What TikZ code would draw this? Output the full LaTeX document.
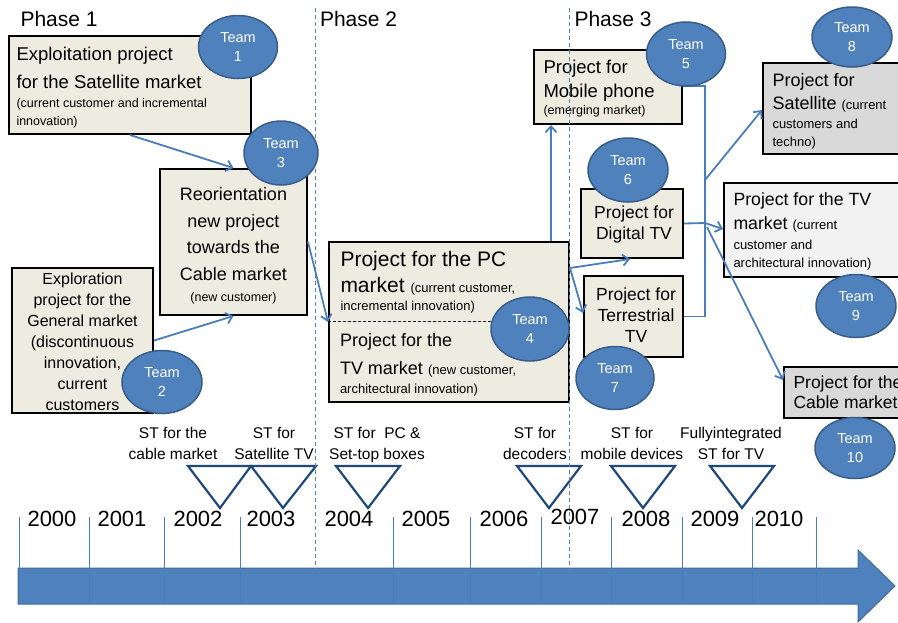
\documentclass[tikz,border=0pt]{standalone}
\usepackage{fontspec}
\setmainfont{Liberation Sans}
\usetikzlibrary{shapes.geometric,arrows.meta}
\definecolor{boxbeige}{HTML}{EEECE1}
\definecolor{boxgrey}{HTML}{D9D9D9}
\definecolor{boxlight}{HTML}{F2F2F2}
\definecolor{teamfill}{HTML}{4F81BD}
\definecolor{teamedge}{HTML}{385D8A}
\definecolor{connblue}{HTML}{4A7EBB}
\definecolor{tribl}{HTML}{1F497D}
\definecolor{arrowedge}{HTML}{3F6C9F}
\newcommand{\smt}[1]{{\fontsize{12.5}{15}\selectfont #1}}
\newcommand{\smu}[1]{{\fontsize{13}{15}\selectfont #1}}
\tikzset{
  pbox/.style={draw=black, line width=2pt, fill=boxbeige, rectangle, inner sep=0pt},
  team/.style={ellipse, draw=teamedge, line width=1.5pt, fill=teamfill, text=white, align=center, inner sep=0pt, font=\fontsize{14.5}{19}\selectfont},
  conn/.style={draw=connblue, line width=1.8pt, -{Straight Barb[length=6pt,width=11pt]}},
  link/.style={draw=connblue, line width=1.8pt},
  txt/.style={inner sep=0pt, outer sep=0pt, text=black},
  phaseline/.style={draw=teamfill, line width=0.8pt, dash pattern=on 4pt off 3pt},
  tickline/.style={draw=connblue, line width=0.9pt},
  tri/.style={draw=tribl, line width=2.2pt, line join=miter},
  year/.style={txt, font=\fontsize{22}{22}\selectfont},
  stlab/.style={txt, anchor=north, align=center, font=\fontsize{15.5}{20.5}\selectfont},
  phaselab/.style={txt, anchor=base west, font=\fontsize{21}{21}\selectfont},
}
\begin{document}
\begin{tikzpicture}[x=1pt,y=-1pt]
\useasboundingbox (0,0) rectangle (898,622);

% ---- timeline arrow
\fill[teamfill, draw=arrowedge, line width=1pt] (18,568) -- (858,568) -- (858,550) -- (895,586) -- (858,622) -- (858,604) -- (18,604) -- cycle;
\foreach \xx in {19,89,164,240,393,470,541,611,682,752,816}
  \draw[tickline] (\xx,517) -- (\xx,603);

% ---- years
\node[year] (y0) at (52,519) {2000};
\node[year] (y1) at (122,519) {2001};
\node[year] (y2) at (198,519) {2002};
\node[year] (y3) at (271,519) {2003};
\node[year] (y4) at (349,519) {2004};
\node[year] (y5) at (426,519) {2005};
\node[year] (y6) at (504,519) {2006};
\node[year] (y7) at (575,517) {2007};
\node[year] (y8) at (646,519) {2008};
\node[year] (y9) at (715,519) {2009};
\node[year] (y10) at (779,519) {2010};

% ---- triangles
\draw[tri] (188,466) -- (251,466) -- (220,508) -- cycle;
\draw[tri] (251,466) -- (316,466) -- (283,508) -- cycle;
\draw[tri] (336,466) -- (400,466) -- (368,508) -- cycle;
\draw[tri] (517,466) -- (581,466) -- (549,508) -- cycle;
\draw[tri] (611,466) -- (675,466) -- (643,508) -- cycle;
\draw[tri] (710,466) -- (774,466) -- (742,508) -- cycle;

% ---- ST labels
\node[stlab] (s1) at (173,427.4) {ST for the\\cable market};
\node[stlab] (s2) at (274,427.4) {ST for\\Satellite TV};
\node[stlab] (s3) at (377,427.4) {ST for\ \ PC \&\\Set-top boxes};
\node[stlab] (s4) at (535,427.4) {ST for\\decoders};
\node[stlab] (s5) at (632,427.4) {ST for\\mobile devices};
\node[stlab] (s6) at (731,427.4) {Fullyintegrated\\ST for TV};

% ---- phase labels
\node[phaselab] (ph1) at (20.5,26) {Phase 1};
\node[phaselab] (ph2) at (320,26) {Phase 2};
\node[phaselab] (ph3) at (574.5,26) {Phase 3};

% ---- boxes
\node[pbox, minimum width=242, minimum height=98] (bE) at (130,85) {};
\node[pbox, minimum width=147, minimum height=146] (bR) at (233.5,242) {};
\node[pbox, minimum width=141, minimum height=145] (bX) at (82.5,340.5) {};
\node[pbox, minimum width=240, minimum height=160] (bPC) at (449,322) {};
\node[pbox, minimum width=148, minimum height=74] (bM) at (608,87) {};
\node[pbox, minimum width=102, minimum height=69] (bD) at (632,223.5) {};
\node[pbox, minimum width=99, minimum height=81] (bT) at (633.5,316.5) {};
\node[pbox, fill=boxgrey, minimum width=150, minimum height=91] (bS) at (838,108.5) {};
\node[pbox, fill=boxlight, minimum width=190, minimum height=94] (bTV) at (819,230) {};
\node[pbox, fill=boxgrey, minimum width=130, minimum height=51] (bC) at (849,392.5) {};

\draw[black, line width=0.8pt, dash pattern=on 3pt off 2pt] (bPC.west |- 0,321) -- (530,321);

% ---- box texts
\node[txt, anchor=north west, align=left, font=\fontsize{18.5}{28}\selectfont] (tE) at (16.5,47.3)
  {Exploitation project\\for the Satellite market\\[-9pt]\smt{(current customer and incremental}\\[-10pt]\smt{innovation)}};
\node[txt, anchor=north, align=center, font=\fontsize{18}{26.7}\selectfont] (tR) at (233.5,187.5)
  {Reorientation\\new project\\towards the\\Cable market\\[-5.7pt]\smt{(new customer)}};
\node[txt, anchor=north, align=center, font=\fontsize{16}{20.9}\selectfont] (tX) at (82.5,273.2)
  {Exploration\\project for the\\General market\\(discontinuous\\innovation,\\current\\customers};
\node[txt, anchor=north west, align=left, font=\fontsize{21}{26}\selectfont] (tPC) at (340.5,250.9)
  {Project for the PC\\market \smu{(current customer,}\\[-8pt]\smu{incremental innovation)}};
\node[txt, anchor=north west, align=left, font=\fontsize{18}{28}\selectfont] (tTVa) at (340,333)
  {Project for the\\TV market \smu{(new customer,}\\[-9pt]\smu{architectural innovation)}};
\node[txt, anchor=north west, align=left, font=\fontsize{18.5}{24}\selectfont] (tM) at (543.5,59.7)
  {Project for\\Mobile phone\\[-7pt]\smt{(emerging market)}};
\node[txt, anchor=north, align=center, font=\fontsize{17.5}{21}\selectfont] (tD) at (634,205.4)
  {Project for\\Digital TV};
\node[txt, anchor=north, align=center, font=\fontsize{17.5}{21}\selectfont] (tT) at (636,287.4)
  {Project for\\Terrestrial\\TV};
\node[txt, anchor=north west, align=left, font=\fontsize{18}{23.5}\selectfont] (tS) at (772.5,73)
  {Project for\\Satellite \smu{(current}\\[-5pt]\smu{customers and}\\[-5.5pt]\smu{techno)}};
\node[txt, anchor=north west, align=left, font=\fontsize{17.7}{24.5}\selectfont] (tTV) at (733.5,192.3)
  {Project for the TV\\market \smu{(current}\\[-4.5pt]\smu{customer and}\\[-7pt]\smu{architectural innovation)}};
\node[txt, anchor=north west, align=left, font=\fontsize{17.5}{20.5}\selectfont] (tC) at (793.5,375.4)
  {Project for the\\Cable market};

% ---- connectors
\coordinate (j) at (705,223);
\coordinate (jS) at (705,180);
\coordinate (jC) at (707,227);
\draw[conn] (bE.south) -- (bR.north);
\draw[conn] (bX.east) -- (bR.south);
\draw[conn] (bR.east) -- (bPC.west);
\draw[conn] (551,0 |- bPC.north) -- (551,0 |- bM.south);
\draw[conn] (bPC.east |- 0,268) -- (630,0 |- bD.south);
\draw[conn] (bPC.east |- 0,268) -- (bT.west |- 0,313);
\draw[link, line join=miter] (bM.east |- 0,86) -| (j |- bT.east) -- (bT.east);
\draw[link] (bD.east) -- (j);
\draw[conn] (jS) -- (bS.west |- 0,110);
\draw[conn] (j) -- (bTV.west |- 0,229);
\draw[conn] (jC) -- (bC.west |- 0,380);

% ---- phase lines
\draw[phaseline] (315,8) -- (315,602);
\draw[phaseline] (569.5,8) -- (569.5,602);

% ---- teams
\node[team, minimum width=79, minimum height=63] (t1) at (238,47) {Team\\1};
\node[team, minimum width=80, minimum height=63] (t2) at (162,382) {Team\\2};
\node[team, minimum width=74, minimum height=64] (t3) at (281,153) {Team\\3};
\node[team, minimum width=78, minimum height=64] (t4) at (530,329) {Team\\4};
\node[team, minimum width=79, minimum height=64] (t5) at (686,54) {Team\\5};
\node[team, minimum width=80, minimum height=64] (t6) at (628,170) {Team\\6};
\node[team, minimum width=78, minimum height=63] (t7) at (615,378) {Team\\7};
\node[team, minimum width=80, minimum height=60] (t8) at (852,37) {Team\\8};
\node[team, minimum width=80, minimum height=63] (t9) at (856,306) {Team\\9};
\node[team, minimum width=80, minimum height=61] (t10) at (855,448) {Team\\10};
\end{tikzpicture}
\end{document}
